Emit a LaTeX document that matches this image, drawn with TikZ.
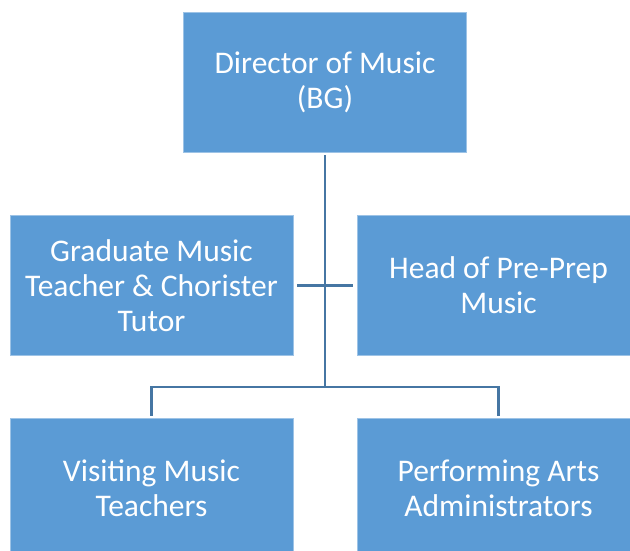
\documentclass[tikz,border=0pt]{standalone}
\usepackage{fontspec}
\setmainfont{Carlito}
\definecolor{boxblue}{RGB}{91,155,213}
\definecolor{linkblue}{RGB}{70,118,163}
\begin{document}
\begin{tikzpicture}[x=1pt,y=-1pt,
  box/.style={fill=boxblue,draw=boxblue!60!white,line width=0.6pt,inner sep=0pt,
    minimum width=283pt,minimum height=140pt,align=center,text=white,
    font=\fontsize{31.5}{35}\selectfont},
  link/.style={draw=linkblue,line width=2.4pt}]
\useasboundingbox (0,0) rectangle (630,551);
\begin{scope}
\clip (0,0) rectangle (630,551);
\node[box] (dir) at (325,82) {Director of Music\\(BG)};
\node[box] (grad) at (151.5,285.5) {Graduate Music\\Teacher \& Chorister\\Tutor};
\node[box] (head) at (498.5,285.5) {Head of Pre-Prep\\Music};
\node[box] (visit) at (151.5,488) {Visiting Music\\Teachers};
\node[box] (admin) at (498.5,488) {Performing Arts\\Administrators};
\end{scope}
\coordinate (hub) at (325,387);
\path[link,shorten <=3pt] (dir) -- (hub);
\path[link,shorten <=4pt,shorten >=4pt] (grad) -- (head);
\path[link,shorten <=2pt,shorten >=2pt] (visit) |- (hub) -| (admin);
\end{tikzpicture}
\end{document}
